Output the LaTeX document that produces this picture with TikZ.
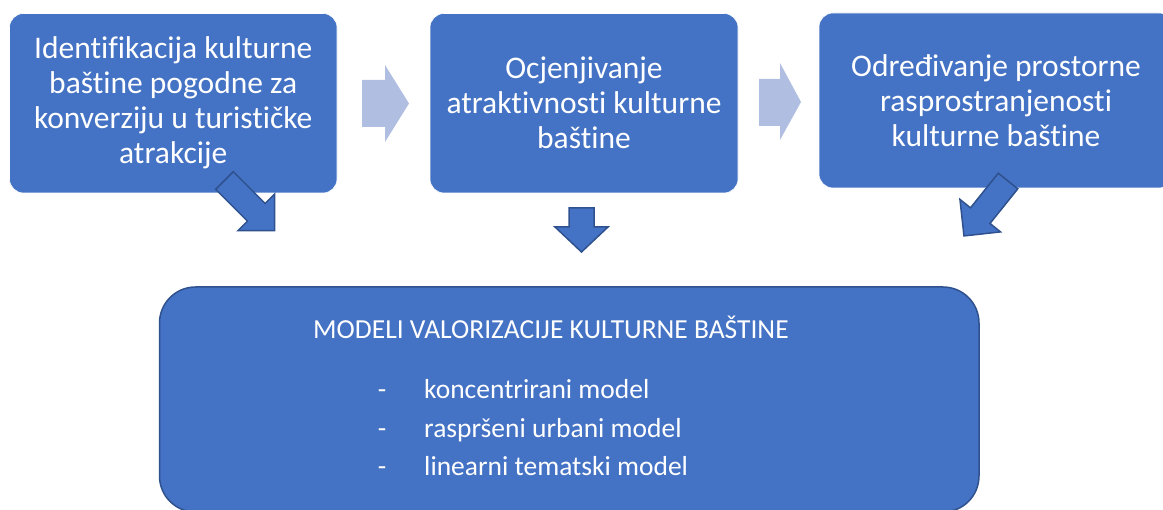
\documentclass[tikz,border=0pt]{standalone}
\usepackage{fontspec}
\setmainfont{Carlito}[Ligatures=NoCommon]
\definecolor{boxblue}{RGB}{68,114,196}
\definecolor{edgeblue}{RGB}{47,82,143}
\definecolor{paleblue}{RGB}{175,190,225}
\begin{document}
\begin{tikzpicture}[x=1pt,y=-1pt,
  stepbox/.style={rectangle, rounded corners=14pt, fill=boxblue, draw=white, line width=0.6pt,
    text=white, align=center, inner sep=0pt, font=\fontsize{31.5}{35}\selectfont},
  modelbox/.style={rectangle, rounded corners=36pt, fill=boxblue, draw=edgeblue, line width=1.5pt, inner sep=0pt},
  modeltext/.style={text=white, inner sep=0pt, font=\fontsize{27.5}{33}\selectfont},
  flowarrow/.style={fill=paleblue},
  downarrow/.style={fill=boxblue, draw=edgeblue, line width=1.5pt, line join=miter}]
\useasboundingbox (0,0) rectangle (1163,510);
\clip (0,0) rectangle (1163,510);
% step boxes
\node[stepbox, minimum width=327.5pt, minimum height=179.5pt] (s1) at (173.25,103.25)
  {Identifikacija kulturne\\ baštine pogodne za\\ konverziju u turističke\\ atrakcije};
\node[stepbox, minimum width=308pt, minimum height=179.5pt] (s2) at (584,103.25)
  {Ocjenjivanje\\ atraktivnosti kulturne\\ baštine};
\node[stepbox, minimum width=354pt, minimum height=175pt] (s3) at (996,100.5)
  {Određivanje prostorne\\ rasprostranjenosti\\ kulturne baštine};
% pale flow arrows
\fill[flowarrow] (362,80) -- (385,80) -- (385,65) -- (409,103.5) -- (385,142) -- (385,127) -- (362,127) -- cycle;
\fill[flowarrow] (759,79) -- (780,79) -- (780,63) -- (801,102) -- (780,140) -- (780,126) -- (759,126) -- cycle;
% bottom box
\node[modelbox, minimum width=819.5pt, minimum height=225pt] (m) at (569.25,399.5) {};
\node[modeltext, anchor=base west] (mt) at (313,339) {MODELI VALORIZACIJE KULTURNE BAŠTINE};
\node[modeltext, anchor=base] (d1) at (382,399) {-};
\node[modeltext, anchor=base west] (l1) at (424,399) {koncentrirani model};
\node[modeltext, anchor=base] (d2) at (382,437.5) {-};
\node[modeltext, anchor=base west] (l2) at (424,437.5) {raspršeni urbani model};
\node[modeltext, anchor=base] (d3) at (382,476) {-};
\node[modeltext, anchor=base west] (l3) at (424,476) {linearni tematski model};
% down arrows
\draw[downarrow, shift={(224.5,180.5)}, rotate=-45]
  (0,-12.5) -- (45,-12.5) -- (45,-26) -- (71,0) -- (45,26) -- (45,12.5) -- (0,12.5) -- cycle;
\draw[downarrow, shift={(581.5,208)}, rotate=-90]
  (0,-12.5) -- (19,-12.5) -- (19,-26.5) -- (44,0) -- (19,26.5) -- (19,12.5) -- (0,12.5) -- cycle;
\draw[downarrow, shift={(1008,181)}, rotate=-128.7]
  (0,-12.5) -- (44.4,-12.5) -- (44.4,-26) -- (70.4,0) -- (44.4,26) -- (44.4,12.5) -- (0,12.5) -- cycle;
\end{tikzpicture}
\end{document}
